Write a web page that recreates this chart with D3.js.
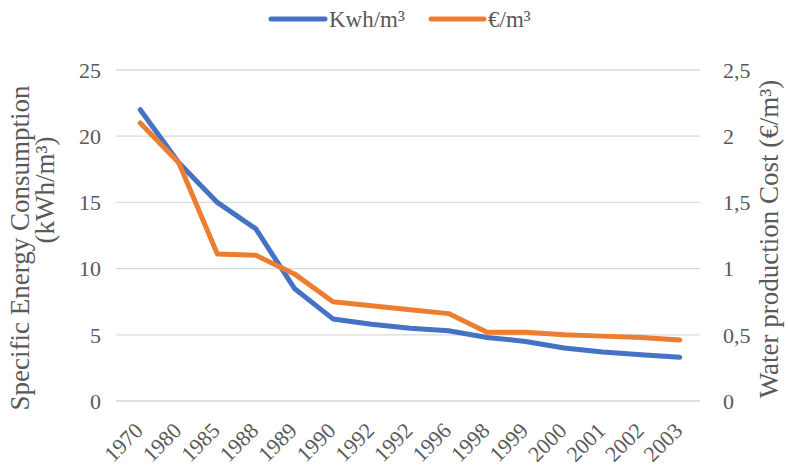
<!DOCTYPE html>
<html>
<head>
<meta charset="utf-8">
<script src="https://cdn.jsdelivr.net/npm/d3@7"></script>
<style>
  html, body { margin: 0; padding: 0; background: #fff; }
  svg { display: block; font-family: "Liberation Serif", "Times New Roman", serif; }
</style>
</head>
<body>
<svg id="chart" width="788" height="467"></svg>
<script>
// Desalination: specific energy use and water production cost over time
const years = ["1970", "1980", "1985", "1988", "1989", "1990", "1992", "1992", "1996", "1998", "1999", "2000", "2001", "2002", "2003"];
const energyKwh = [22, 18, 15, 13, 8.5, 6.2, 5.8, 5.5, 5.3, 4.8, 4.5, 4.0, 3.7, 3.5, 3.3];
const costEuro = [2.1, 1.8, 1.11, 1.1, 0.96, 0.75, 0.72, 0.69, 0.66, 0.52, 0.52, 0.5, 0.49, 0.48, 0.46];
const leftTicks = [0, 5, 10, 15, 20, 25];
const rightTicks = [0, 0.5, 1, 1.5, 2, 2.5];

const BLUE = "#4472C4", ORANGE = "#ED7D31", TEXT = "#595959", GRID = "#D9D9D9";

const svg = d3.select("#chart");
const plot = { left: 121, right: 699, top: 70, bottom: 401 };

const x = d3.scaleBand().domain(d3.range(years.length)).range([plot.left, plot.right]);
const cx = i => x(i) + x.bandwidth() / 2;
const yL = d3.scaleLinear().domain([0, 25]).range([plot.bottom, plot.top]);
const yR = d3.scaleLinear().domain([0, 2.5]).range([plot.bottom, plot.top]);

// horizontal gridlines
svg.append("g").selectAll("line").data(leftTicks).join("line")
  .attr("x1", 116).attr("x2", 700)
  .attr("y1", d => yL(d)).attr("y2", d => yL(d))
  .attr("stroke", GRID).attr("stroke-width", 1.3);

// left axis labels
const fmtL = d3.format("d");
svg.append("g").selectAll("text").data(leftTicks).join("text")
  .attr("x", 101).attr("y", d => yL(d)).attr("dy", "0.35em")
  .attr("text-anchor", "end").attr("font-size", 22).attr("fill", TEXT)
  .text(d => fmtL(d));

// right axis labels (comma decimal)
svg.append("g").selectAll("text").data(rightTicks).join("text")
  .attr("x", 723).attr("y", d => yR(d)).attr("dy", "0.35em")
  .attr("text-anchor", "start").attr("font-size", 22).attr("fill", TEXT)
  .text(d => String(d).replace(".", ","));

// category labels, slanted
svg.append("g").selectAll("text").data(years).join("text")
  .attr("transform", (d, i) => `translate(${cx(i) + 4},${432}) rotate(-45)`)
  .attr("text-anchor", "end").attr("font-size", 22).attr("fill", TEXT)
  .text(d => d);

// axis titles
svg.append("text")
  .attr("transform", `translate(29,248) rotate(-90)`)
  .attr("text-anchor", "middle").attr("font-size", 27).attr("fill", TEXT)
  .text("Specific Energy Consumption");
svg.append("text")
  .attr("transform", `translate(54,190) rotate(-90)`)
  .attr("text-anchor", "middle").attr("font-size", 27).attr("fill", TEXT)
  .text("(kWh/m³)");
svg.append("text")
  .attr("transform", `translate(778,239) rotate(-90)`)
  .attr("text-anchor", "middle").attr("font-size", 27).attr("fill", TEXT)
  .text("Water production Cost (€/m³)");

// series lines
const lineL = d3.line().x((d, i) => cx(i)).y(d => yL(d));
const lineR = d3.line().x((d, i) => cx(i)).y(d => yR(d));
svg.append("path").datum(energyKwh).attr("d", lineL)
  .attr("fill", "none").attr("stroke", BLUE).attr("stroke-width", 5)
  .attr("stroke-linejoin", "round").attr("stroke-linecap", "round");
svg.append("path").datum(costEuro).attr("d", lineR)
  .attr("fill", "none").attr("stroke", ORANGE).attr("stroke-width", 5)
  .attr("stroke-linejoin", "round").attr("stroke-linecap", "round");

// legend
const legend = [
  { label: "Kwh/m³", color: BLUE, x1: 271, x2: 325, tx: 329 },
  { label: "€/m³", color: ORANGE, x1: 431, x2: 484, tx: 488 }
];
const lg = svg.append("g");
lg.selectAll("line").data(legend).join("line")
  .attr("x1", d => d.x1).attr("x2", d => d.x2).attr("y1", 19).attr("y2", 19)
  .attr("stroke", d => d.color).attr("stroke-width", 5).attr("stroke-linecap", "round");
lg.selectAll("text").data(legend).join("text")
  .attr("x", d => d.tx).attr("y", 27).attr("font-size", 23).attr("fill", TEXT)
  .text(d => d.label);
</script>
</body>
</html>
